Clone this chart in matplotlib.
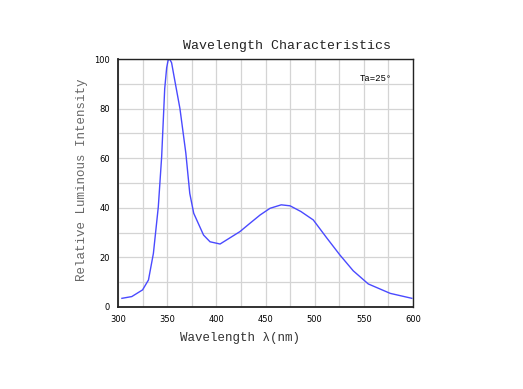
import matplotlib
matplotlib.use("Agg")
import matplotlib.pyplot as plt

# spectrum
wavelength = [304, 314, 325, 331, 336, 341, 344.4, 347.5, 349.5, 351, 352.5, 354.5, 357,
              363, 369, 373, 377, 387, 393.6, 403.8, 424, 434, 444.5, 454.6, 466, 475,
              486, 498.6, 512, 525.6, 539.2, 554.5, 576.8, 598.8]
intensity = [3.5, 4.2, 6.9, 10.9, 21.6, 40.4, 60.6, 88, 96.5, 99.5, 100, 98.5, 93,
             80, 62, 45.8, 37.8, 29, 26.3, 25.4, 30.4, 33.7, 37.1, 39.8, 41.2, 40.8,
             38.5, 35.1, 28, 21, 14.6, 9.3, 5.5, 3.5]
xticks = [300, 350, 400, 450, 500, 550, 600]
yticks = [0, 20, 40, 60, 80, 100]

mono = "Liberation Mono"

fig = plt.figure(figsize=(5.23, 3.89), dpi=100)
ax = fig.add_axes([0.2256, 0.2108, 0.5641, 0.6375])

ax.plot(wavelength, intensity, color="#4a4aff", lw=1.0)

ax.set_xlim(300, 600)
ax.set_ylim(0, 100)
ax.set_xticks(xticks)
ax.set_yticks(yticks)
ax.set_xticks(range(300, 601, 25), minor=True)
ax.set_yticks(range(0, 101, 10), minor=True)
ax.grid(True, which="both", color="#d4d4d4", lw=0.9)
ax.tick_params(which="both", length=0, labelsize=6, pad=6)
for s in ax.spines.values():
    s.set_linewidth(1.0)
    s.set_color("#222222")
ax.spines["left"].set_linewidth(1.3)
ax.spines["bottom"].set_linewidth(1.3)

ax.text(0.93, 0.92, "Ta=25°", transform=ax.transAxes, ha="right", va="center",
        fontsize=6.5, family=mono)

fig.text(287 / 523, 1 - 46 / 389, "Wavelength Characteristics", ha="center",
         va="center", fontsize=9.5, family=mono, color="#222222")
fig.text(240 / 523, 1 - 338 / 389, "Wavelength λ(nm)", ha="center", va="center",
         fontsize=9, family=mono, color="#333333")
fig.text(82 / 523, 1 - 180 / 389, "Relative Luminous Intensity", ha="center",
         va="center", rotation=90, fontsize=9, family=mono, color="#666666")

fig.savefig("out.png", dpi=100)
